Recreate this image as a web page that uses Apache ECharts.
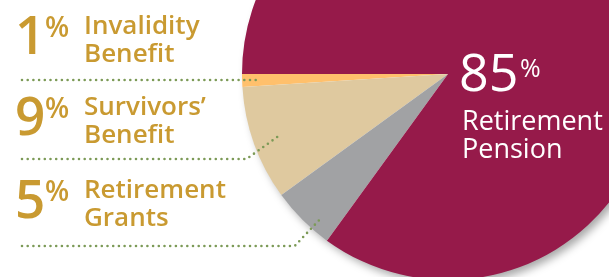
<!DOCTYPE html>
<html>
<head>
<meta charset="utf-8">
<script src="https://cdn.jsdelivr.net/npm/echarts@6/dist/echarts.min.js"></script>
<style>
  html, body { margin: 0; padding: 0; background: #fff; }
  #chart { width: 609px; height: 277px; }
</style>
</head>
<body>
<div id="chart"></div>
<script>
// data
const categories = ['Invalidity\nBenefit', 'Survivors’\nBenefit', 'Retirement\nGrants', 'Retirement\nPension']
const shares = [1, 9, 5, 85]
const sliceColors = ['#FFC06C', '#DFC99F', '#A1A2A4', '#961A4A']

// layout
const cx = 448, cy = 74, R = 206
const rowTop = [0, 81, 164]
const lineY = [80, 159, 246]
const anchorR = [190, 177, 194]     // where the leader line ends inside the slice
const anchorFrac = [0.5, 0.5, 0.7]  // position across the slice
const elbowDx = [0, 35, 25]
const gold = '#C99A31'
const dotGreen = '#7C9A57'
const font = '"Open Sans", "Noto Sans", sans-serif'

let myChart = echarts.init(document.getElementById('chart'))

function buildGraphics() {
    let total = shares.reduce((a, b) => a + b, 0)
    let items = []
    let acc = 0
    for (let i = 0; i < shares.length; i++) {
        let start = acc / total * 360
        acc += shares[i]
        let end = acc / total * 360
        if (i === shares.length - 1) {
            // big slice label (white, inside)
            items.push({ type: 'text', z: 20, x: 459, y: 76, style: { text: String(shares[i]), font: '500 52px ' + font, fill: '#fff', verticalAlign: 'middle' } })
            items.push({ type: 'text', z: 20, x: 520, y: 70, style: { text: '%', font: '500 25px ' + font, fill: '#fff', verticalAlign: 'middle' } })
            items.push({ type: 'text', z: 20, x: 462, y: 108, style: { text: categories[i], font: '500 27px ' + font, fill: '#fff', verticalAlign: 'top', lineHeight: 28 } })
            continue
        }
        let t = rowTop[i]
        items.push({ type: 'text', z: 20, x: 15, y: t + 39, style: { text: String(shares[i]), font: '600 53px ' + font, fill: gold, verticalAlign: 'middle' } })
        items.push({ type: 'text', z: 20, x: 45, y: t + 29, style: { text: '%', font: '600 28px ' + font, fill: gold, verticalAlign: 'middle' } })
        items.push({ type: 'text', z: 20, x: 84, y: t + 13, style: { text: categories[i], font: '600 26px ' + font, fill: gold, verticalAlign: 'top', lineHeight: 28 } })

        // leader line: from the left margin to a point inside the slice
        let a = (start + (end - start) * anchorFrac[i]) * Math.PI / 180
        let ex = cx - anchorR[i] * Math.cos(a)
        let ey = cy + anchorR[i] * Math.sin(a)
        let pts = [[22, lineY[i]]]
        if (elbowDx[i] > 0) pts.push([ex - elbowDx[i], lineY[i]])
        pts.push([ex, ey])
        items.push({
            type: 'polyline', z: 20,
            shape: { points: pts },
            style: { stroke: dotGreen, lineWidth: 2.6, lineDash: [0, 5.7], lineCap: 'round', fill: null }
        })
    }
    return items
}

myChart.setOption({
    animation: false,
    series: [
        {
            // soft drop shadow under the whole pie
            type: 'pie',
            z: 1,
            silent: true,
            center: [cx, cy],
            radius: R - 1,
            label: { show: false },
            labelLine: { show: false },
            itemStyle: {
                color: '#ffffff',
                shadowBlur: 9,
                shadowOffsetX: 4,
                shadowOffsetY: 5,
                shadowColor: 'rgba(0,0,0,0.35)'
            },
            data: [{ name: 'shadow', value: 1 }]
        },
        {
            type: 'pie',
            z: 2,
            center: [cx, cy],
            radius: R,
            startAngle: 180,
            clockwise: false,
            label: { show: false },
            labelLine: { show: false },
            emphasis: { disabled: true },
            itemStyle: { borderWidth: 0 },
            data: shares.map((v, i) => ({ name: categories[i], value: v, itemStyle: { color: sliceColors[i] } }))
        }
    ],
    graphic: buildGraphics()
})
</script>
</body>
</html>
